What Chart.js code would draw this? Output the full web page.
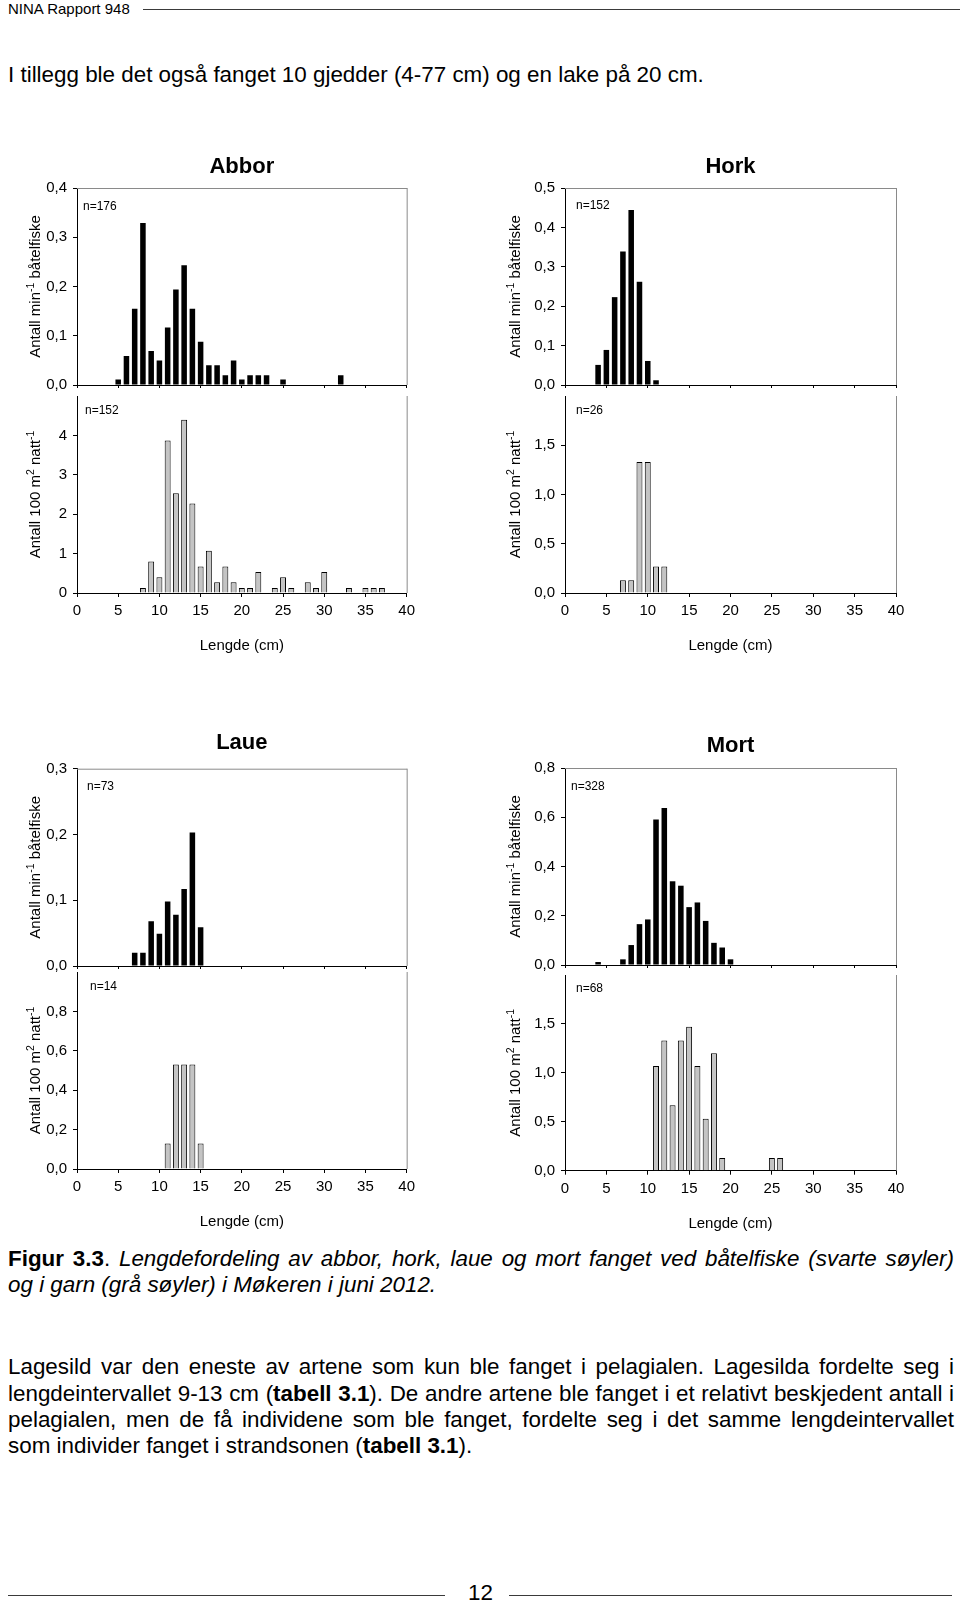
<!DOCTYPE html>
<html>
<head>
<meta charset="utf-8">
<title>Lengdefordeling abbor, hork, laue og mort</title>
<script src="https://cdn.jsdelivr.net/npm/chart.js@4.4.1/dist/chart.umd.min.js"></script>
<style>
  body { margin: 0; background: #fff; }
  #page { position: relative; width: 960px; height: 1604px; overflow: hidden; background: #fff;
          font-family: 'Liberation Sans', Arial, Helvetica, sans-serif; color: #000; }
  .txt { position: absolute; left: 8px; white-space: nowrap; font-size: 22.4px; line-height: 26px; }
  .just { width: 946px; text-align: justify; text-align-last: justify; }
  .rule { position: absolute; height: 0; border-top: 1.5px solid #3a3a3a; }
  canvas { position: absolute; }
</style>
</head>
<body>
<div id="page">
  <div class="txt" style="top:1px;font-size:15px;line-height:16px">NINA Rapport 948</div>
  <div class="rule" style="left:143px;width:817px;top:9px"></div>

  <div class="txt" style="top:62px">I tillegg ble det også fanget 10 gjedder (4-77 cm) og en lake på 20 cm.</div>

  <div class="txt just" style="top:1246px"><b>Figur 3.3</b>. <i>Lengdefordeling av abbor, hork, laue og mort fanget ved båtelfiske (svarte søyler)</i></div>
  <div class="txt" style="top:1272px"><i>og i garn (grå søyler) i Møkeren i juni 2012.</i></div>

  <div class="txt just" style="top:1354px">Lagesild var den eneste av artene som kun ble fanget i pelagialen. Lagesilda fordelte seg i</div>
  <div class="txt just" style="top:1381px">lengdeintervallet 9-13 cm (<b>tabell 3.1</b>). De andre artene ble fanget i et relativt beskjedent antall i</div>
  <div class="txt just" style="top:1407px">pelagialen, men de få individene som ble fanget, fordelte seg i det samme lengdeintervallet</div>
  <div class="txt" style="top:1433px">som individer fanget i strandsonen (<b>tabell 3.1</b>).</div>

  <div class="rule" style="left:8px;width:437px;top:1595px"></div>
  <div class="txt" style="top:1580px;left:468px">12</div>
  <div class="rule" style="left:509px;width:443px;top:1595px"></div>
</div>
<script>
  // lengths (cm) and catch values
  const abborBoatLen = [5, 6, 7, 8, 9, 10, 11, 12, 13, 14, 15, 16, 17, 18, 19, 20, 21, 22, 23, 25, 32];
  const abborBoatVal = [0.011, 0.059, 0.155, 0.329, 0.069, 0.05, 0.117, 0.194, 0.243, 0.155, 0.088, 0.04, 0.04, 0.02, 0.05, 0.011, 0.02, 0.02, 0.02, 0.011, 0.02];
  const abborNetLen = [8, 9, 10, 11, 12, 13, 14, 15, 16, 17, 18, 19, 20, 21, 22, 24, 25, 26, 28, 29, 30, 33, 35, 36, 37];
  const abborNetVal = [0.13, 0.8, 0.4, 3.87, 2.53, 4.4, 2.27, 0.67, 1.07, 0.27, 0.67, 0.27, 0.13, 0.13, 0.53, 0.13, 0.4, 0.13, 0.27, 0.13, 0.53, 0.13, 0.13, 0.13, 0.13];

  const horkBoatLen = [4, 5, 6, 7, 8, 9, 10, 11];
  const horkBoatVal = [0.051, 0.089, 0.223, 0.339, 0.444, 0.262, 0.061, 0.012];
  const horkNetLen = [7, 8, 9, 10, 11, 12];
  const horkNetVal = [0.13, 0.13, 1.33, 1.33, 0.27, 0.27];

  const laueBoatLen = [7, 8, 9, 10, 11, 12, 13, 14, 15];
  const laueBoatVal = [0.02, 0.02, 0.068, 0.049, 0.098, 0.078, 0.117, 0.203, 0.059];
  const laueNetLen = [11, 12, 13, 14, 15];
  const laueNetVal = [0.13, 0.53, 0.53, 0.53, 0.13];

  const mortBoatLen = [4, 7, 8, 9, 10, 11, 12, 13, 14, 15, 16, 17, 18, 19, 20];
  const mortBoatVal = [0.012, 0.023, 0.081, 0.166, 0.185, 0.591, 0.638, 0.34, 0.322, 0.235, 0.254, 0.179, 0.09, 0.071, 0.023];
  const mortNetLen = [11, 12, 13, 14, 15, 16, 17, 18, 19, 25, 26];
  const mortNetVal = [1.07, 1.33, 0.67, 1.33, 1.47, 1.07, 0.53, 1.2, 0.13, 0.13, 0.13];

  const FONT = "'Liberation Sans', Arial, Helvetica, sans-serif";
  Chart.defaults.font.family = FONT;
  Chart.defaults.font.size = 15;
  Chart.defaults.color = '#000';

  const boatTitle = [{ text: 'Antall min' }, { text: '-1', sup: true }, { text: ' båtelfiske' }];
  const netTitle = [{ text: 'Antall 100 m' }, { text: '2', sup: true }, { text: ' natt' }, { text: '-1', sup: true }];

  // rotated y title with superscripts
  const yTitlePlugin = {
    id: 'yTitle',
    afterDraw(chart, args, o) {
      const ctx = chart.ctx, a = chart.chartArea;
      ctx.save();
      let w = 0;
      const parts = o.parts.map(p => {
        ctx.font = (p.sup ? 10.5 : 15) + 'px ' + FONT;
        const pw = ctx.measureText(p.text).width;
        w += pw;
        return { text: p.text, sup: p.sup, pw };
      });
      ctx.translate(o.x, (a.top + a.bottom) / 2);
      ctx.rotate(-Math.PI / 2);
      ctx.fillStyle = '#000';
      ctx.textBaseline = 'alphabetic';
      let x = -w / 2;
      parts.forEach(p => {
        ctx.font = (p.sup ? 10.5 : 15) + 'px ' + FONT;
        ctx.fillText(p.text, x, p.sup ? -6 : 0);
        x += p.pw;
      });
      ctx.restore();
    }
  };

  const nLabelPlugin = {
    id: 'nLabel',
    afterDraw(chart, args, o) {
      const ctx = chart.ctx, a = chart.chartArea;
      ctx.save();
      ctx.font = '12px ' + FONT;
      ctx.fillStyle = '#000';
      ctx.textBaseline = 'middle';
      ctx.fillText(o.text, a.left + o.dx, a.top + o.dy);
      ctx.restore();
    }
  };

  // grey right (and top) edge of the plot box
  const framePlugin = {
    id: 'frame',
    afterDraw(chart, args, o) {
      const ctx = chart.ctx, a = chart.chartArea;
      ctx.save();
      ctx.strokeStyle = '#8a8a8a';
      ctx.lineWidth = 1;
      ctx.beginPath();
      if (o.top) {
        ctx.moveTo(a.left, a.top + 0.5);
        ctx.lineTo(a.right + 0.5, a.top + 0.5);
      }
      ctx.moveTo(a.right + 0.5, a.top);
      ctx.lineTo(a.right + 0.5, a.bottom);
      ctx.stroke();
      ctx.restore();
    }
  };

  const page = document.getElementById('page');
  const cols = [
    { x: 0, w: 420, axisW: 77, padRight: 12 },
    { x: 480, w: 430, axisW: 85, padRight: 14 }
  ];

  function drawPanel(p) {
    const col = cols[p.col];
    let y, h, padTop, padBottom, xH;
    if (p.net) {
      xH = 62;
      y = Math.floor(p.plotTop - 12);
      padTop = p.plotTop - y;
      h = Math.ceil(p.plotBottom - y + xH + 4);
      padBottom = h - (p.plotBottom - y) - xH;
    } else {
      xH = 3;
      y = p.rowTop;
      padTop = 0;
      h = Math.ceil(p.plotBottom - y + 13);
      padBottom = h - (p.plotBottom - y) - xH;
    }
    const cv = document.createElement('canvas');
    cv.width = col.w;
    cv.height = h;
    cv.style.left = col.x + 'px';
    cv.style.top = y + 'px';
    page.appendChild(cv);

    const titleTop = p.title ? p.titleC - y - 13.2 : 0;
    const titleBottom = p.title ? p.plotTop - y - 26.4 - titleTop : 0;

    new Chart(cv, {
      type: 'bar',
      data: {
        datasets: [{
          data: p.len.map((x, i) => ({ x: x, y: p.val[i] })),
          backgroundColor: p.net ? '#c4c4c4' : '#000',
          borderColor: '#000',
          borderWidth: p.net ? 1 : 0,
          categoryPercentage: 1,
          barPercentage: p.net ? 0.72 : 0.67
        }]
      },
      options: {
        responsive: false,
        animation: false,
        events: [],
        layout: { padding: { top: padTop, right: col.padRight, bottom: padBottom, left: 0 } },
        plugins: {
          legend: { display: false },
          tooltip: { enabled: false },
          title: {
            display: !!p.title,
            text: p.title || '',
            fullSize: false,
            color: '#000',
            font: { size: 22, weight: 'bold' },
            padding: { top: titleTop, bottom: titleBottom }
          },
          yTitle: { parts: p.net ? netTitle : boatTitle, x: 40 },
          nLabel: { text: p.n, dx: p.nDx, dy: p.nDy },
          frame: { top: !p.net }
        },
        scales: {
          x: {
            type: 'linear',
            min: 0,
            max: 40,
            offset: false,
            grid: { offset: false, drawOnChartArea: false, drawTicks: true, tickLength: p.net ? 4 : 3, color: '#000' },
            border: { color: '#000', width: 1 },
            ticks: { display: p.net, stepSize: 5, padding: 5, maxRotation: 0, autoSkip: false },
            title: { display: p.net, text: 'Lengde (cm)', padding: 0, font: { size: 15 } },
            afterFit: s => { s.height = xH; }
          },
          y: {
            min: 0,
            max: p.max,
            grid: { drawOnChartArea: false, drawTicks: true, tickLength: 4, color: '#000' },
            border: { color: '#000', width: 1 },
            ticks: {
              stepSize: p.step,
              padding: 6,
              callback: v => {
                if (p.net && Math.abs(v - p.max) < 1e-9) return null;
                return p.dec ? v.toFixed(p.dec).replace('.', ',') : String(Math.round(v));
              }
            },
            afterFit: s => { s.width = col.axisW; }
          }
        }
      },
      plugins: [yTitlePlugin, nLabelPlugin, framePlugin]
    });
  }

  drawPanel({ col: 0, title: 'Abbor', rowTop: 140, titleC: 167, plotTop: 188, plotBottom: 387,
              len: abborBoatLen, val: abborBoatVal, max: 0.4, step: 0.1, dec: 1, n: 'n=176', nDx: 6, nDy: 19 });
  drawPanel({ col: 0, net: true, plotTop: 393, plotBottom: 593,
              len: abborNetLen, val: abborNetVal, max: 5, step: 1, dec: 0, n: 'n=152', nDx: 8, nDy: 15 });
  drawPanel({ col: 1, title: 'Hork', rowTop: 140, titleC: 167, plotTop: 188, plotBottom: 387,
              len: horkBoatLen, val: horkBoatVal, max: 0.5, step: 0.1, dec: 1, n: 'n=152', nDx: 11, nDy: 18 });
  drawPanel({ col: 1, net: true, plotTop: 393, plotBottom: 593,
              len: horkNetLen, val: horkNetVal, max: 2, step: 0.5, dec: 1, n: 'n=26', nDx: 11, nDy: 15 });
  drawPanel({ col: 0, title: 'Laue', rowTop: 720, titleC: 743, plotTop: 768.7, plotBottom: 967.3,
              len: laueBoatLen, val: laueBoatVal, max: 0.3, step: 0.1, dec: 1, n: 'n=73', nDx: 10, nDy: 18 });
  drawPanel({ col: 0, net: true, plotTop: 969.4, plotBottom: 1169,
              len: laueNetLen, val: laueNetVal, max: 1, step: 0.2, dec: 1, n: 'n=14', nDx: 13, nDy: 15 });
  drawPanel({ col: 1, title: 'Mort', rowTop: 720, titleC: 746, plotTop: 768, plotBottom: 966.7,
              len: mortBoatLen, val: mortBoatVal, max: 0.8, step: 0.2, dec: 1, n: 'n=328', nDx: 6, nDy: 19 });
  drawPanel({ col: 1, net: true, plotTop: 972, plotBottom: 1170.7,
              len: mortNetLen, val: mortNetVal, max: 2, step: 0.5, dec: 1, n: 'n=68', nDx: 11, nDy: 14 });
</script>
</body>
</html>
